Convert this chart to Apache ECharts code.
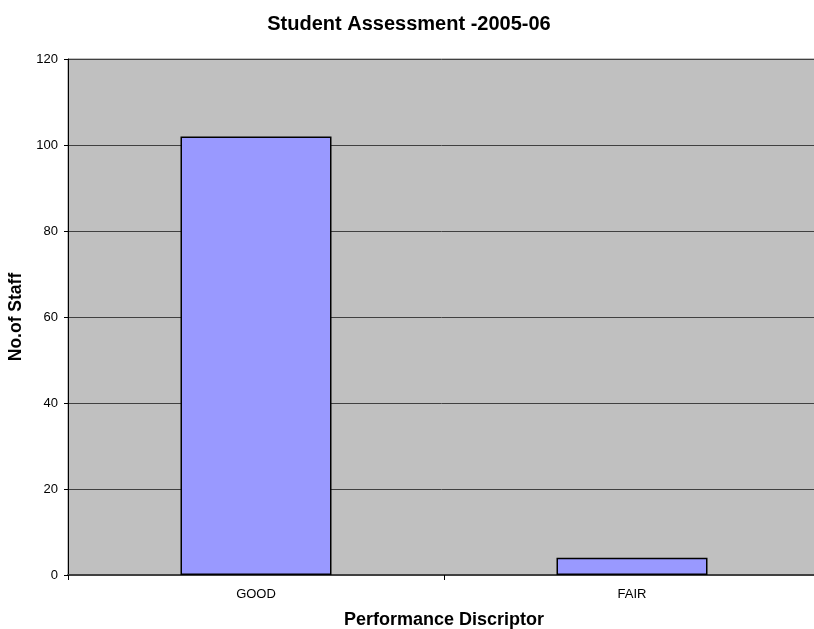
<!DOCTYPE html>
<html lang="en">
<head>
    <meta charset="UTF-8">
    <title>Student Assessment</title>
    <script src="https://cdn.jsdelivr.net/npm/echarts@6/dist/echarts.min.js"></script>
</head>
<body style="margin:0">
<div id="main" style="width: 814px;height:629px;"></div>
<script type="text/javascript">
    var categories = ['GOOD', 'FAIR'];
    var staffCounts = [102, 4];
    var yTicks = [0, 20, 40, 60, 80, 100, 120];

    var myChart = echarts.init(document.getElementById('main'));
    var font = 'Liberation Sans, Arial, sans-serif';

    option = {
        animation: false,
        title: {
            text: 'Student Assessment -2005-06',
            left: 404,
            textAlign: 'center',
            top: 9,
            textStyle: { fontFamily: font, fontSize: 20, fontWeight: 'bold', color: '#000' }
        },
        grid: {
            left: 68, top: 59, right: -6, bottom: 54,
            outerBoundsMode: 'none',
            containLabel: false,
            show: true, backgroundColor: '#c0c0c0', borderColor: '#808080', borderWidth: 1
        },
        xAxis: {
            type: 'category',
            data: categories,
            name: 'Performance Discriptor',
            nameLocation: 'middle',
            nameGap: 36,
            nameTextStyle: { fontFamily: font, fontSize: 18, fontWeight: 'bold', color: '#000' },
            axisLine: { lineStyle: { color: '#404040', width: 2 } },
            axisTick: { show: true, length: 5, alignWithLabel: false, lineStyle: { color: '#000' } },
            axisLabel: { fontFamily: font, fontSize: 13, color: '#000', margin: 13 }
        },
        yAxis: {
            type: 'value',
            min: yTicks[0],
            max: yTicks[yTicks.length - 1],
            interval: 20,
            name: 'No.of Staff',
            nameLocation: 'middle',
            nameGap: 42,
            nameTextStyle: { fontFamily: font, fontSize: 17.5, fontWeight: 'bold', color: '#000' },
            axisLine: { show: true, lineStyle: { color: '#000', width: 1 } },
            axisTick: { show: true, length: 4, lineStyle: { color: '#000' } },
            axisLabel: { fontFamily: font, fontSize: 13, color: '#000', margin: 10 },
            splitLine: { lineStyle: { color: '#404040', width: 1 } }
        },
        series: [{
            type: 'bar',
            data: staffCounts,
            barWidth: 151,
            itemStyle: { color: '#9999ff', borderColor: '#000', borderWidth: 1.5 }
        }]
    };
    myChart.setOption(option);
</script>
</body>
</html>
